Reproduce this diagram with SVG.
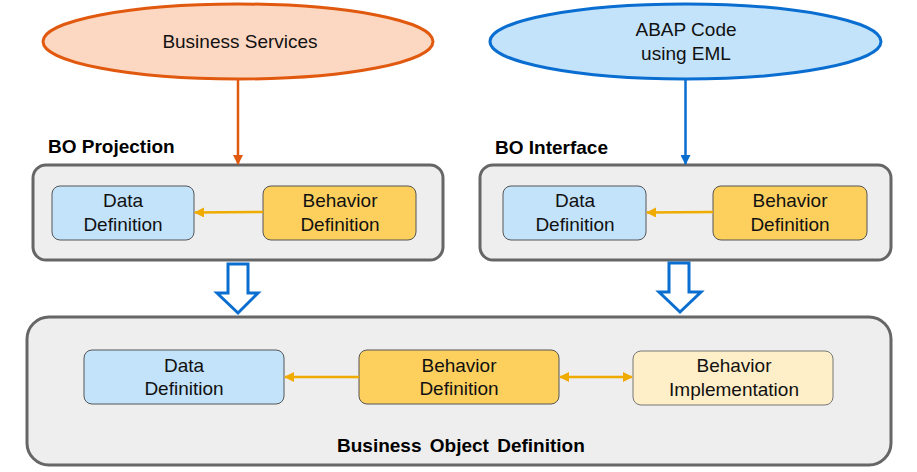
<svg xmlns="http://www.w3.org/2000/svg" width="917" height="472" viewBox="0 0 917 472">
<style>
text{font-family:"Liberation Sans",Arial,sans-serif;font-size:19px;fill:#111;text-anchor:middle}
.lbl{font-weight:bold;text-anchor:start;fill:#000}
.cont{fill:#EEEEEE;stroke:#666;stroke-width:3}
.data{fill:#C3E3FB;stroke:#555;stroke-width:1}
.beh{fill:#FDD05E;stroke:#555;stroke-width:1}
.impl{fill:#FFEFC8;stroke:#777;stroke-width:1}
.ya{stroke:#F0AB00;stroke-width:2.5;fill:none}
.hollow{fill:#fff;stroke:#0A6ED1;stroke-width:3;stroke-linejoin:miter}
</style>
<defs>
<marker id="ay" viewBox="0 0 10 10" refX="9" refY="5" markerWidth="4" markerHeight="4" orient="auto-start-reverse"><path d="M0,0L10,5L0,10z" fill="#F0AB00"/></marker>
<marker id="ao" viewBox="0 0 10 10" refX="9" refY="5" markerWidth="4" markerHeight="4" orient="auto"><path d="M0,0L10,5L0,10z" fill="#E1590E"/></marker>
<marker id="ab" viewBox="0 0 10 10" refX="9" refY="5" markerWidth="4" markerHeight="4" orient="auto"><path d="M0,0L10,5L0,10z" fill="#0A6ED1"/></marker>
</defs>

<g id="business-services">
<ellipse cx="238" cy="41.5" rx="195" ry="37.5" fill="#FCD8C3" stroke="#E1590E" stroke-width="3"/>
<text x="240" y="48">Business Services</text>
</g>
<g id="abap-code">
<ellipse cx="685.5" cy="41.5" rx="195.5" ry="37.5" fill="#C3E3FB" stroke="#0A6ED1" stroke-width="3"/>
<text x="686" y="36">ABAP Code</text>
<text x="686" y="60">using EML</text>
</g>

<g id="bo-projection">
<text class="lbl" x="48" y="153">BO Projection</text>
<rect class="cont" x="33" y="165" width="410" height="95" rx="13"/>
<g id="proj-data"><rect class="data" x="52" y="186" width="142" height="54" rx="8"/><text x="123" y="207">Data</text><text x="123" y="231">Definition</text></g>
<g id="proj-beh"><rect class="beh" x="263" y="186" width="153" height="54" rx="8"/><text x="340" y="207">Behavior</text><text x="340" y="231">Definition</text></g>
</g>

<g id="bo-interface">
<text class="lbl" x="495" y="154">BO Interface</text>
<rect class="cont" x="480" y="165" width="411" height="95" rx="13"/>
<g id="intf-data"><rect class="data" x="503" y="186" width="143" height="54" rx="8"/><text x="575" y="207">Data</text><text x="575" y="231">Definition</text></g>
<g id="intf-beh"><rect class="beh" x="713" y="186" width="154" height="54" rx="8"/><text x="790" y="207">Behavior</text><text x="790" y="231">Definition</text></g>
</g>

<g id="bo-definition">
<rect class="cont" x="27" y="317" width="864" height="148" rx="22"/>
<g id="def-data"><rect class="data" x="84" y="350" width="200" height="54" rx="8"/><text x="184" y="372">Data</text><text x="184" y="395">Definition</text></g>
<g id="def-beh"><rect class="beh" x="359" y="350" width="200" height="54" rx="8"/><text x="459" y="372">Behavior</text><text x="459" y="395">Definition</text></g>
<g id="def-impl"><rect class="impl" x="633" y="351" width="200" height="54" rx="8"/><text x="734" y="372">Behavior</text><text x="734" y="396">Implementation</text></g>
<text class="lbl" x="337" y="452" style="word-spacing:3px">Business Object Definition</text>
</g>

<g id="connectors">
<line x1="238" y1="79" x2="238" y2="164" stroke="#E1590E" stroke-width="2.5" marker-end="url(#ao)"/>
<line x1="685.5" y1="79" x2="685.5" y2="164" stroke="#0A6ED1" stroke-width="2.5" marker-end="url(#ab)"/>
<line class="ya" x1="263" y1="212" x2="195" y2="212.5" marker-end="url(#ay)"/>
<line class="ya" x1="713" y1="212" x2="647" y2="212.5" marker-end="url(#ay)"/>
<line class="ya" x1="359" y1="377" x2="285" y2="377" marker-end="url(#ay)"/>
<line class="ya" x1="560" y1="377" x2="632" y2="377" marker-start="url(#ay)" marker-end="url(#ay)"/>
<path class="hollow" d="M228,264H248V293H258L238,313L217,293H228Z"/>
<path class="hollow" d="M669,263H689V292H701L680,312L659,292H669Z"/>
</g>
</svg>
